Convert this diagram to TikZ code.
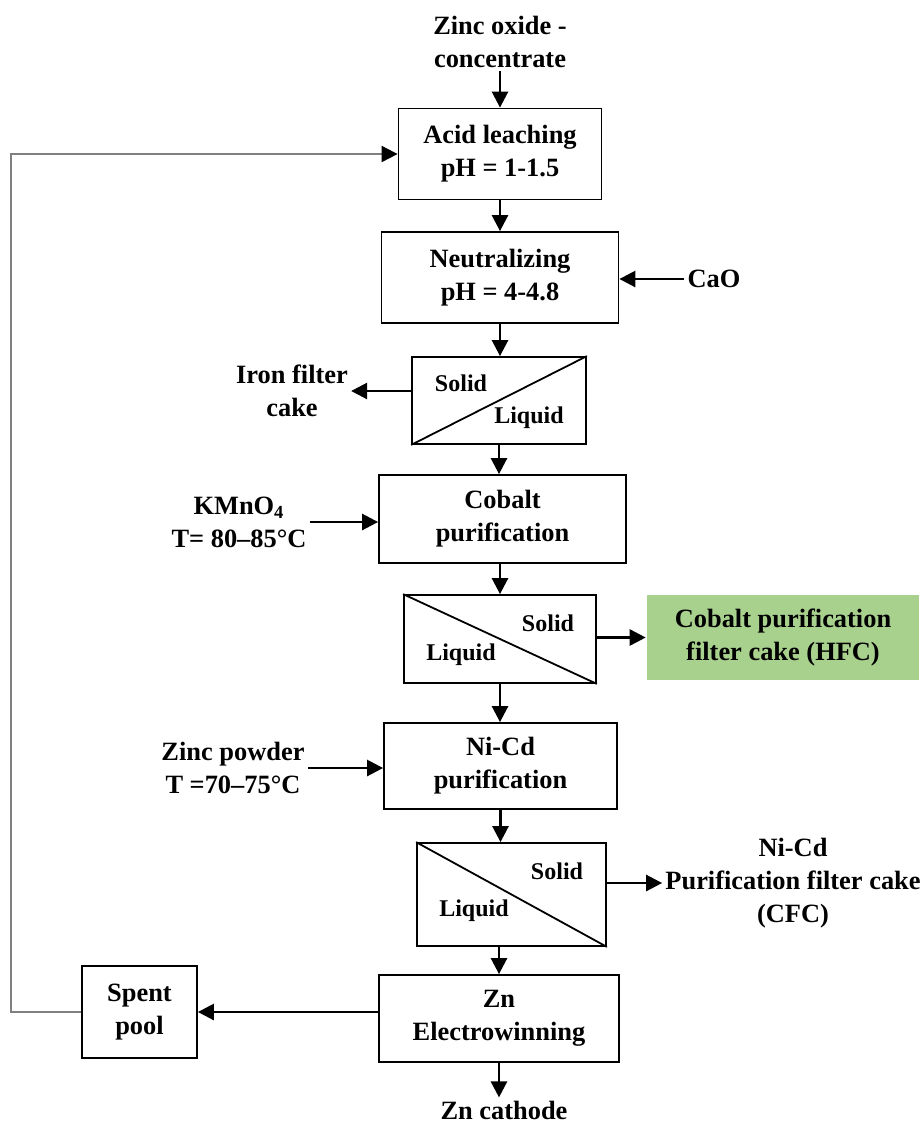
\documentclass[tikz,border=0pt]{standalone}
\usepackage{fontspec}
\setmainfont{Liberation Serif}
\usetikzlibrary{arrows.meta}

\definecolor{cakegreen}{RGB}{169,209,142}

\begin{document}
\begin{tikzpicture}[x=0.5pt,y=-0.5pt,->,>={Triangle[length=8pt,width=8pt]},line width=1.3pt,
    every node/.style={font=\fontsize{13.2}{16.5}\selectfont\bfseries,align=center,inner sep=1pt},
    stage/.style={draw=black,line width=0.9pt,inner sep=0pt},
    phase/.style={font=\fontsize{12}{14}\selectfont\bfseries},
    recycle/.style={draw=gray,line width=1pt,-{Triangle[length=8pt,width=8pt,color=black]}}]
  \useasboundingbox (0,0) rectangle (921,1126);

  \node (feed) at (500,42) {Zinc oxide -\\concentrate};
  \node[stage,minimum width=101.5pt,minimum height=45.5pt] (leach) at (500,154) {Acid leaching\\pH = 1-1.5};
  \node[stage,minimum width=118.5pt,minimum height=45.5pt] (neut) at (500,277.5) {Neutralizing\\pH = 4-4.8};
  \node (cao) at (714,279) {CaO};
  \node[stage,minimum width=87pt,minimum height=43.5pt] (sep1) at (499,400.5) {};
  \node (iron) at (292,391) {Iron filter\\cake};
  \node[stage,minimum width=123.5pt,minimum height=44pt] (cobalt) at (502.5,519) {Cobalt\\purification};
  \node (kmno) at (239,522) {KMnO\textsubscript{4}\\T= 80–85°C};
  \node[stage,minimum width=96pt,minimum height=44pt] (sep2) at (500,639) {};
  \node[fill=cakegreen,minimum width=136pt,minimum height=42.5pt,inner sep=0pt] (hfc) at (783,637.5) {Cobalt purification\\filter cake (HFC)};
  \node[stage,minimum width=116.5pt,minimum height=43pt] (nicd) at (500.5,766) {Ni-Cd\\purification};
  \node (powder) at (233,768) {Zinc powder\\T =70–75°C};
  \node[stage,minimum width=94.5pt,minimum height=51.5pt] (sep3) at (511.5,894.5) {};
  \node (cfc) at (793,883) {Ni-Cd\\Purification filter cake\\(CFC)};
  \node[stage,minimum width=120pt,minimum height=43.5pt] (zn) at (499,1018.5) {Zn\\Electrowinning};
  \node[stage,minimum width=57.5pt,minimum height=46pt] (spent) at (139.5,1012) {Spent\\pool};
  \node (cathode) at (504,1110) {Zn cathode};
  \coordinate (loop) at (11,154);

  \draw[-,line width=0.9pt] (sep1.south west) -- (sep1.north east);
  \draw[-,line width=0.9pt] (sep2.north west) -- (sep2.south east);
  \draw[-,line width=0.9pt] (sep3.north west) -- (sep3.south east);
  \node[phase] (s1solid) at (461,383) {Solid};
  \node[phase] (s1liquid) at (529,418) {Liquid};
  \node[phase] (s2solid) at (548,623) {Solid};
  \node[phase] (s2liquid) at (461,655) {Liquid};
  \node[phase] (s3solid) at (557,871) {Solid};
  \node[phase] (s3liquid) at (474,911) {Liquid};

  \draw (feed.south -| leach.north) -- (leach.north);
  \draw (leach.south) -- (leach.south |- neut.north);
  \draw (cao.west) -- (cao.west -| neut.east);
  \draw (neut.south) -- (neut.south |- sep1.north);
  \draw (iron.east -| sep1.west) -- (iron.east);
  \draw (sep1.south) -- (sep1.south |- cobalt.north);
  \draw (kmno.east) -- (kmno.east -| cobalt.west);
  \draw (cobalt.south -| sep2.north) -- (sep2.north);
  \draw (sep2.east |- hfc.west) -- (hfc.west);
  \draw (sep2.south) -- (sep2.south |- nicd.north);
  \draw (powder.east) -- (powder.east -| nicd.west);
  \draw (nicd.south) -- (nicd.south |- sep3.north);
  \draw (cfc.west -| sep3.east) -- (cfc.west);
  \draw (zn.north |- sep3.south) -- (zn.north);
  \draw (spent.east -| zn.west) -- (spent.east);
  \draw (zn.south) -- (zn.south |- cathode.north);
  \draw[recycle] (spent.west) -| (loop) -- (leach.west);
\end{tikzpicture}
\end{document}
